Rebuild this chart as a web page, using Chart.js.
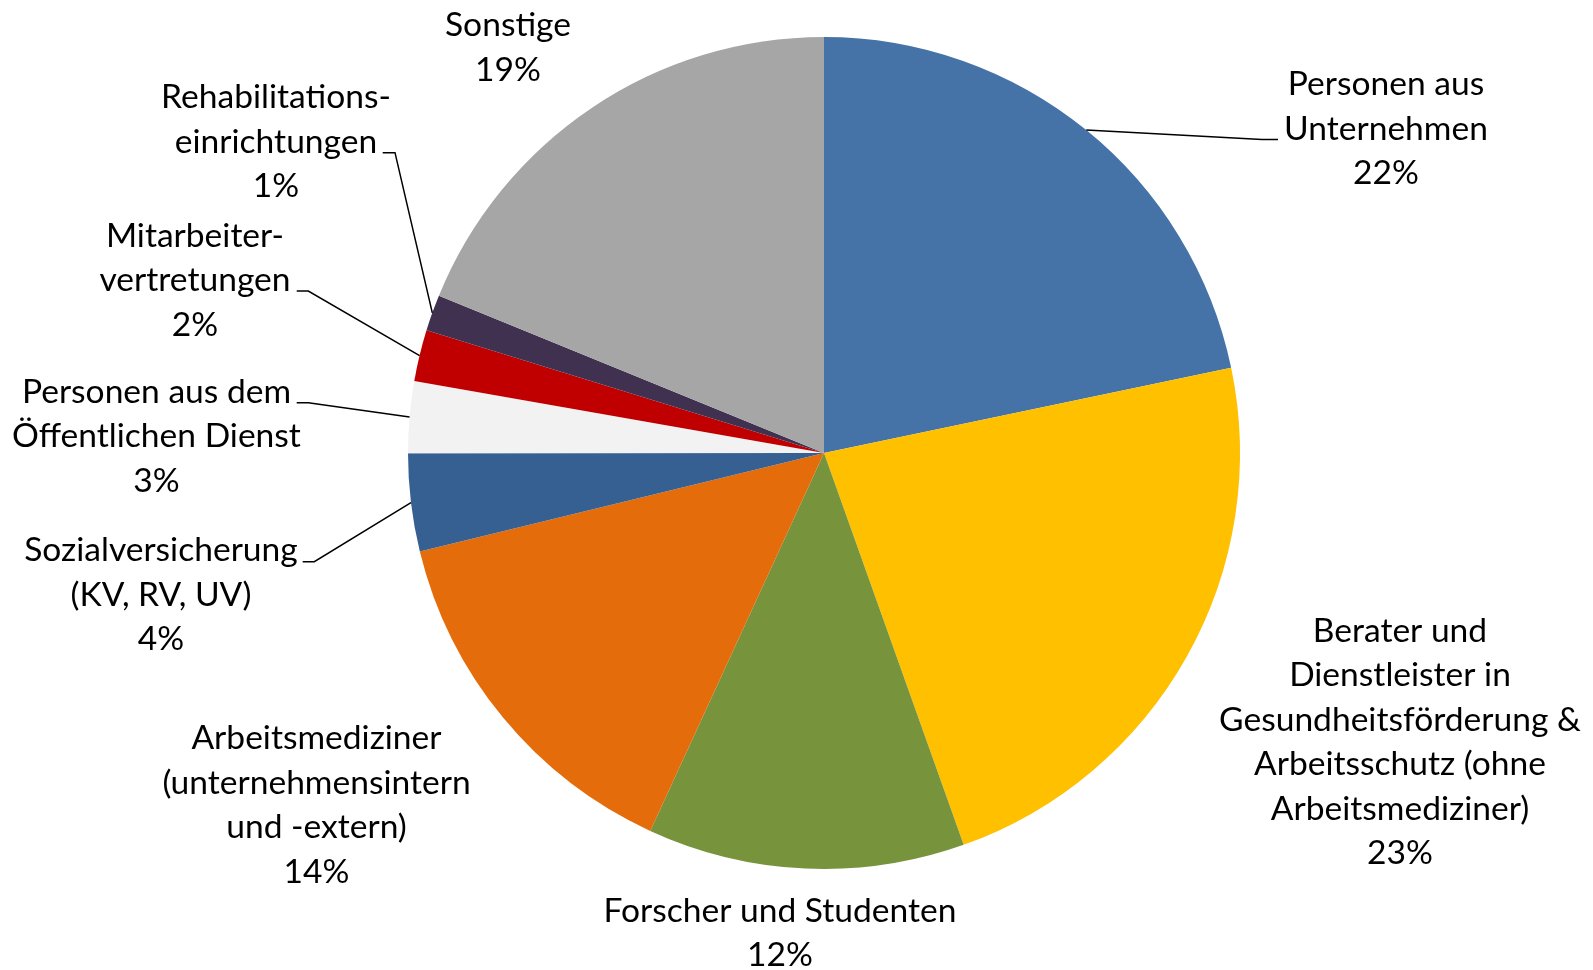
<!DOCTYPE html>
<html>
<head>
<meta charset="utf-8">
<script src="https://cdn.jsdelivr.net/npm/chart.js@4/dist/chart.umd.min.js"></script>
<style>
  html, body { margin: 0; padding: 0; background: #ffffff; }
  #wrap { width: 1593px; height: 970px; position: relative; }
</style>
</head>
<body>
<div id="wrap"><canvas id="c"></canvas></div>
<script>
// ---- data ----
const categories = [
  ['Personen aus', 'Unternehmen'],
  ['Berater und', 'Dienstleister in', 'Gesundheitsförderung &', 'Arbeitsschutz (ohne', 'Arbeitsmediziner)'],
  ['Forscher und Studenten'],
  ['Arbeitsmediziner', '(unternehmensintern', 'und -extern)'],
  ['Sozialversicherung', '(KV, RV, UV)'],
  ['Personen aus dem', 'Öffentlichen Dienst'],
  ['Mitarbeiter-', 'vertretungen'],
  ['Rehabilitations-', 'einrichtungen'],
  ['Sonstige']
];
const shares = [21.72, 22.84, 12.31, 14.34, 3.80, 2.77, 2.00, 1.41, 18.83];
const sliceColors = ['#4673A7', '#FFC000', '#77933C', '#E46C0A', '#376092', '#F2F2F2', '#C00000', '#403151', '#A6A6A6'];

// ---- label layout (center x, first baseline y) and leader elbows ----
const labelPos = [
  [1386, 95], [1400, 641.7], [780, 921.7], [316.5, 749], [161, 561],
  [156.5, 402.7], [195, 246.5], [276, 108], [508, 36]
];
const leaderElbows = {
  0: [[1262, 139.5], [1278, 139.5]],
  4: [[314.3, 561.7], [302.7, 561.7]],
  5: [[308.3, 402.7], [296.7, 402.7]],
  6: [[308.3, 291], [296.7, 291]],
  7: [[395, 152.7], [382.7, 152.7]]
};
const lineGap = 44.5;
const fontFamily = 'Lato, "Open Sans", sans-serif';

const labelPlugin = {
  id: 'pieLabels',
  afterDatasetsDraw(chart) {
    const ctx = chart.ctx;
    const meta = chart.getDatasetMeta(0);
    const total = shares.reduce((a, b) => a + b, 0);
    ctx.save();
    // font size fitted so a reference label width matches the original
    ctx.font = '36px ' + fontFamily;
    const w = ctx.measureText('Forscher und Studenten').width;
    const fs = Math.min(36, 36 * 353 / w);
    // leaders
    ctx.strokeStyle = '#000000';
    ctx.lineWidth = 1.5;
    Object.keys(leaderElbows).forEach(k => {
      const i = +k;
      const arc = meta.data[i];
      const mid = (arc.startAngle + arc.endAngle) / 2;
      const ex = arc.x + Math.cos(mid) * arc.outerRadius;
      const ey = arc.y + Math.sin(mid) * arc.outerRadius;
      ctx.beginPath();
      ctx.moveTo(ex, ey);
      leaderElbows[k].forEach(p => ctx.lineTo(p[0], p[1]));
      ctx.stroke();
    });
    // texts
    ctx.fillStyle = '#000000';
    ctx.textAlign = 'center';
    ctx.textBaseline = 'alphabetic';
    ctx.font = fs.toFixed(2) + 'px ' + fontFamily;
    categories.forEach((lines, i) => {
      const pct = Math.round(shares[i] / total * 100) + '%';
      const all = lines.concat([pct]);
      const [x, y0] = labelPos[i];
      all.forEach((t, j) => ctx.fillText(t, x, y0 + j * lineGap));
    });
    ctx.restore();
  }
};

new Chart(document.getElementById('c'), {
  type: 'pie',
  data: {
    labels: categories.map(l => l.join(' ')),
    datasets: [{
      data: shares,
      backgroundColor: sliceColors,
      borderWidth: 0
    }]
  },
  options: {
    responsive: true,
    maintainAspectRatio: false,
    animation: false,
    layout: { padding: { left: 408, right: 353, top: 37, bottom: 101 } },
    plugins: {
      legend: { display: false },
      tooltip: { enabled: false }
    }
  },
  plugins: [labelPlugin]
});
</script>
</body>
</html>
